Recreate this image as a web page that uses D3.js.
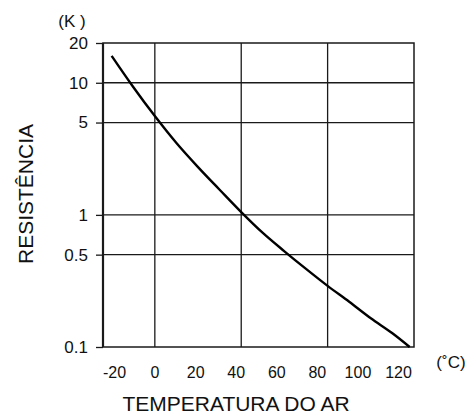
<!DOCTYPE html>
<html><head><meta charset="utf-8">
<script src="https://cdn.jsdelivr.net/npm/d3@7"></script>
<style>body{margin:0;background:#fff}svg{display:block}text{font-family:"Liberation Sans",Arial,sans-serif;fill:#111}</style>
</head><body><svg id="c" width="471" height="416"></svg>
<script>
const temps = [-20,-10,0,10,20,30,40,50,60,70,80,90,100,110,118];
const resist = [16,9.3,5.6,3.5,2.3,1.55,1.05,0.73,0.53,0.39,0.29,0.22,0.165,0.127,0.1];
const yTicks = [0.1,0.5,1,5,10,20];
const yGrid = [0.5,1,5,10];
const xGrid = [0,40,80];
const xTickLabels = ["-20","0","20","40","60","80","100","120"];

const svg = d3.select("#c");
const L=103, R=414, T=43, B=347;
const x = d3.scaleLinear().domain([-24,120]).range([L,R]);
const y = d3.scaleLog().domain([0.1,20]).range([B,T]);
const xl = d3.scalePoint().domain(xTickLabels).range([114,398]);
const ink = "#1a1a1a";
const FF = "Liberation Sans, Arial, sans-serif";

// grid
svg.append("g").selectAll("line").data(yGrid).join("line")
  .attr("x1",L).attr("x2",R).attr("y1",d=>y(d)).attr("y2",d=>y(d))
  .attr("stroke",ink).attr("stroke-width",1.3);
svg.append("g").selectAll("line").data(xGrid).join("line")
  .attr("x1",d=>x(d)).attr("x2",d=>x(d)).attr("y1",T).attr("y2",B)
  .attr("stroke",ink).attr("stroke-width",1.3);
// frame
svg.append("rect").attr("x",L).attr("y",T).attr("width",R-L).attr("height",B-T)
  .attr("fill","none").attr("stroke",ink).attr("stroke-width",1.5);
svg.append("line").attr("x1",L).attr("x2",L).attr("y1",T).attr("y2",B).attr("stroke",ink).attr("stroke-width",2.2);

// y axis
const ya = svg.append("g").attr("transform",`translate(${L},0)`)
  .call(d3.axisLeft(y).tickValues(yTicks).tickFormat(d=>String(d)).tickSize(7).tickPadding(8));
ya.select(".domain").remove();
ya.selectAll("line").attr("stroke",ink).attr("stroke-width",1.3);
ya.selectAll("text").attr("font-size",17).attr("fill",ink).style("font-family",FF);

// x tick labels
const xa = svg.append("g").attr("transform",`translate(0,${B})`)
  .call(d3.axisBottom(xl).tickSize(0).tickPadding(20));
xa.select(".domain").remove();
xa.selectAll("text").attr("font-size",16).attr("fill",ink).style("font-family",FF);

// curve
svg.append("path").datum(temps.map((t,i)=>[t,resist[i]]))
  .attr("fill","none").attr("stroke","#000").attr("stroke-width",2.4)
  .attr("d",d3.line().x(d=>x(d[0])).y(d=>y(d[1])).curve(d3.curveMonotoneX));

// labels
svg.append("text").attr("x",72).attr("y",27).attr("text-anchor","middle").attr("font-size",17).text("(K )");
svg.append("text").attr("x",451).attr("y",368).attr("text-anchor","middle").attr("font-size",17).text("(˚C)");
svg.append("text").attr("x",236).attr("y",411).attr("text-anchor","middle").attr("font-size",21).text("TEMPERATURA DO AR");
svg.append("text").attr("transform","translate(33,194) rotate(-90)").attr("text-anchor","middle").attr("font-size",21).text("RESISTÊNCIA");
</script></body></html>
